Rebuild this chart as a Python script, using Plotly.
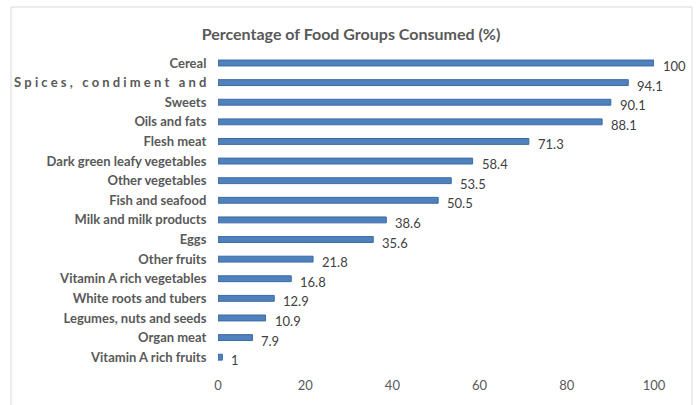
import plotly.graph_objects as go

# Food groups, top to bottom, and the share of respondents consuming each (%)
food_groups = [
    "Cereal",
    "S p i c e s ,\u00a0\u00a0\u00a0c o n d i m e n t\u00a0\u00a0\u00a0a n d",
    "Sweets",
    "Oils and fats",
    "Flesh meat",
    "Dark green leafy vegetables",
    "Other vegetables",
    "Fish and seafood",
    "Milk and milk products",
    "Eggs",
    "Other fruits",
    "Vitamin A rich vegetables",
    "White roots and tubers",
    "Legumes, nuts and seeds",
    "Organ meat",
    "Vitamin A rich fruits",
]
percent_consumed = [100, 94.1, 90.1, 88.1, 71.3, 58.4, 53.5, 50.5,
                    38.6, 35.6, 21.8, 16.8, 12.9, 10.9, 7.9, 1]
x_ticks = [0, 20, 40, 60, 80, 100]

W, H = 697, 405
L, R, T, B = 218, 43, 50, 38

TEXT_GREY = "#595959"
FONT = "Lato"

fig = go.Figure()
fig.add_trace(go.Bar(
    x=percent_consumed,
    y=food_groups,
    orientation="h",
    width=0.3,
    marker=dict(color="#4f81bd", line=dict(color="#3b6ba5", width=1)),
    hoverinfo="x+y",
))

# value labels just right of each bar end, nudged slightly downward
annotations = [
    dict(x=v, y=c, xref="x", yref="y", text=f"{v:g}", showarrow=False,
         xanchor="left", yanchor="middle", xshift=7, yshift=-3,
         font=dict(family=FONT, size=13, color="#404040"))
    for c, v in zip(food_groups, percent_consumed)
]

# chart frame (light grey border) in paper coordinates
pw, ph = W - L - R, H - T - B
def px_x(p):
    return (p - L) / pw
def px_y(p):
    return (H - B - p) / ph

fig.update_layout(
    width=W, height=H,
    margin=dict(l=L, r=R, t=T, b=B),
    paper_bgcolor="white",
    plot_bgcolor="white",
    showlegend=False,
    title=dict(
        text="<b>Percentage of Food Groups Consumed (%)</b>",
        x=351 / W, xref="container", xanchor="center",
        y=1 - 34 / H, yref="container", yanchor="middle",
        font=dict(family=FONT, size=16, color=TEXT_GREY),
    ),
    xaxis=dict(
        range=[0, 100],
        tickvals=x_ticks,
        showgrid=False, zeroline=False, showline=False,
        ticks="outside", ticklen=6, tickcolor="white",
        tickfont=dict(family=FONT, size=13, color=TEXT_GREY),
        fixedrange=True,
    ),
    yaxis=dict(
        categoryorder="array", categoryarray=food_groups,
        autorange="reversed",
        showgrid=False, zeroline=False, showline=False,
        ticks="outside", ticklen=8, tickcolor="white",
        tickfont=dict(family=FONT, size=13, color=TEXT_GREY, weight="bold"),
        fixedrange=True,
    ),
    annotations=annotations,
    shapes=[dict(
        type="rect", xref="paper", yref="paper",
        x0=px_x(11), x1=px_x(692), y0=px_y(412), y1=px_y(7),
        line=dict(color="#d9d9d9", width=1), layer="below",
    )],
)

fig.write_html("out.html")
